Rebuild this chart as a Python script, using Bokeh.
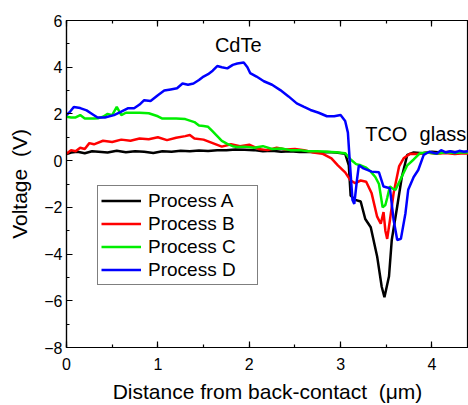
from bokeh.plotting import figure
from bokeh.models import (LinearAxis, SingleIntervalTicker, Legend, LegendItem, Label,
                          CustomJSTickFormatter)
from bokeh.embed import file_html
from bokeh.resources import INLINE

# ---------------- data ----------------
xa = [0.00,0.05,0.12,0.20,0.28,0.35,0.45,0.55,0.65,0.75,0.85,0.95,1.05,1.15,1.25,1.35,1.45,1.55,1.65,1.75,1.85,1.95,2.05,2.15,2.25,2.35,2.45,2.55,2.65,2.75,2.85,2.95,3.05,3.09,3.11,3.16,3.22,3.27,3.33,3.40,3.45,3.48,3.53,3.56,3.62,3.67,3.73,3.80,3.90,4.00,4.10,4.20,4.30,4.40]
ya = [0.28,0.35,0.38,0.32,0.40,0.38,0.35,0.42,0.36,0.40,0.38,0.33,0.40,0.38,0.42,0.40,0.43,0.41,0.45,0.44,0.48,0.47,0.45,0.40,0.42,0.38,0.40,0.37,0.38,0.36,0.37,0.35,0.30,-0.20,-1.50,-1.68,-1.75,-2.50,-2.85,-4.10,-5.40,-5.85,-4.95,-3.40,-1.95,-0.70,0.25,0.35,0.32,0.38,0.35,0.38,0.36,0.38]

xb = [0,0.05,0.1,0.15,0.2,0.25,0.3,0.4,0.5,0.6,0.7,0.8,0.9,1.0,1.1,1.2,1.3,1.35,1.4,1.5,1.6,1.7,1.8,1.9,2.0,2.1,2.2,2.3,2.4,2.5,2.6,2.7,2.8,2.9,2.97,3.05,3.11,3.16,3.22,3.28,3.34,3.40,3.44,3.47,3.49,3.51,3.54,3.58,3.64,3.69,3.76,3.85,3.95,4.05,4.15,4.25,4.35,4.4]
yb = [0.30,0.45,0.40,0.55,0.50,0.75,0.70,0.85,0.80,0.90,0.85,0.95,0.92,1.00,0.88,0.98,1.05,1.10,0.95,0.90,0.75,0.60,0.70,0.62,0.68,0.50,0.45,0.55,0.48,0.50,0.45,0.35,0.30,0.10,-0.20,-0.50,-0.85,-0.96,-0.85,-0.90,-1.40,-2.40,-2.70,-2.20,-3.00,-3.35,-2.55,-1.40,-0.25,0.10,0.30,0.28,0.35,0.30,0.33,0.28,0.32,0.30]

xc = [0,0.05,0.1,0.15,0.2,0.25,0.3,0.35,0.4,0.45,0.5,0.55,0.6,0.65,0.7,0.8,0.9,1.0,1.05,1.1,1.2,1.3,1.4,1.45,1.5,1.55,1.6,1.65,1.7,1.76,1.82,1.87,1.95,2.05,2.15,2.25,2.35,2.45,2.55,2.65,2.75,2.85,2.95,3.05,3.11,3.17,3.22,3.28,3.33,3.38,3.42,3.46,3.49,3.51,3.54,3.57,3.60,3.65,3.73,3.80,3.87,3.95,4.05,4.15,4.25,4.35,4.4]
yc = [1.88,1.85,1.85,1.95,1.80,1.80,1.80,1.82,1.88,2.00,1.95,2.30,1.95,2.05,2.05,2.05,2.03,1.90,1.80,1.80,1.80,1.78,1.65,1.50,1.48,1.45,1.25,1.05,0.85,0.72,0.62,0.58,0.60,0.55,0.62,0.50,0.52,0.45,0.45,0.40,0.40,0.38,0.36,0.32,0.05,-0.15,-0.20,-0.30,-0.47,-0.70,-1.00,-2.00,-1.90,-1.60,-1.10,-1.20,-1.25,-0.85,-0.20,0.05,0.32,0.35,0.30,0.36,0.33,0.36,0.35]

xd = [0,0.04,0.08,0.15,0.22,0.28,0.34,0.42,0.52,0.60,0.67,0.74,0.80,0.85,0.92,1.0,1.07,1.14,1.21,1.27,1.33,1.39,1.45,1.50,1.55,1.60,1.65,1.70,1.76,1.82,1.87,1.94,1.98,2.01,2.08,2.16,2.25,2.34,2.43,2.52,2.60,2.67,2.76,2.85,2.93,3.00,3.05,3.08,3.10,3.13,3.15,3.18,3.20,3.25,3.34,3.42,3.47,3.54,3.58,3.62,3.66,3.71,3.74,3.80,3.85,3.91,3.97,4.05,4.10,4.15,4.20,4.25,4.30,4.35,4.40]
yd = [1.95,2.10,2.30,2.25,2.15,2.00,1.85,1.85,1.95,2.10,2.24,2.24,2.40,2.59,2.55,2.80,3.00,3.05,3.10,3.30,3.25,3.30,3.45,3.60,3.70,3.85,4.05,4.00,3.95,4.10,4.16,4.20,4.00,3.75,3.60,3.40,3.25,3.02,2.75,2.45,2.30,2.17,2.05,1.90,1.90,1.95,1.70,1.20,0.00,-1.68,-1.85,-0.80,-0.20,-0.33,-0.47,-0.50,-1.11,-1.18,-2.53,-3.40,-3.35,-2.25,-1.25,-0.70,-0.40,0.25,0.38,0.30,0.45,0.35,0.40,0.35,0.42,0.38,0.40]

series_names = ["Process A", "Process B", "Process C", "Process D"]
series_colors = ["#000000", "#ff0000", "#00ee00", "#0000ff"]

region_labels = ["CdTe", "TCO", "glass"]
region_x = [1.88, 3.50, 4.12]
region_y = [4.95, 1.16, 1.16]

FONT = "Liberation Sans"

# ---------------- figure ----------------
p = figure(width=468, height=405, x_range=(0, 4.4), y_range=(-8, 6),
           output_backend="svg", toolbar_location=None,
           min_border_left=66, min_border_right=0, min_border_top=20, min_border_bottom=56)
p.xaxis.visible = False
p.yaxis.visible = False
p.grid.visible = False
p.outline_line_color = "#000000"
p.outline_line_width = 1.2
p.background_fill_color = "white"
p.border_fill_color = "white"

def style_axis(ax, interval):
    ax.ticker = SingleIntervalTicker(interval=interval, num_minor_ticks=2)
    ax.axis_line_color = "#000000"
    ax.axis_line_width = 1.2
    ax.major_tick_in = 6
    ax.major_tick_out = 0
    ax.minor_tick_in = 3
    ax.minor_tick_out = 0
    ax.major_tick_line_color = "#000000"
    ax.minor_tick_line_color = "#000000"
    ax.major_tick_line_width = 1.2
    ax.minor_tick_line_width = 1.2
    ax.major_label_text_font = FONT
    ax.major_label_text_font_size = "16px"
    ax.major_label_text_color = "#000000"
    ax.major_label_text_line_height = 1.0
    ax.axis_label_text_font = FONT
    ax.axis_label_text_font_size = "21px"
    ax.axis_label_text_font_style = "normal"
    ax.axis_label_text_color = "#000000"
    ax.axis_label_text_line_height = 1.0

xb_axis = LinearAxis(axis_label="Distance from back-contact\u00a0 (μm)")
style_axis(xb_axis, 1)
xb_axis.major_label_standoff = 10
xb_axis.axis_label_standoff = 7
p.add_layout(xb_axis, "below")

yl_axis = LinearAxis(axis_label="Voltage\u00a0 (V)")
style_axis(yl_axis, 2)
yl_axis.major_label_standoff = 4
yl_axis.axis_label_standoff = 10
p.add_layout(yl_axis, "left")

xt_axis = LinearAxis()
style_axis(xt_axis, 1)
xt_axis.formatter = CustomJSTickFormatter(code="return ''")
xt_axis.major_label_standoff = 0
p.add_layout(xt_axis, "above")

renderers = []
for xs, ys, c in zip([xa, xb, xc, xd], [ya, yb, yc, yd], series_colors):
    r = p.line(xs, ys, line_color=c, line_width=2.5)
    renderers.append(r)

legend = Legend(items=[LegendItem(label=n, renderers=[r]) for n, r in zip(series_names, renderers)],
                location=(31, 62))
legend.label_text_font = FONT
legend.label_text_font_size = "19px"
legend.label_text_color = "#000000"
legend.glyph_width = 40
legend.glyph_height = 23
legend.label_height = 23
legend.label_width = 106
legend.label_standoff = 7
legend.padding = 3
legend.spacing = 0
legend.margin = 0
legend.border_line_color = "#000000"
legend.border_line_width = 1
legend.background_fill_color = "white"
legend.background_fill_alpha = 1
p.add_layout(legend, "center")

for t, x, y in zip(region_labels, region_x, region_y):
    p.add_layout(Label(x=x, y=y, text=t, text_align="center", text_baseline="alphabetic",
                       text_font=FONT, text_font_size="20px", text_color="#000000"))

open("out.html", "w").write(file_html(p, INLINE))
